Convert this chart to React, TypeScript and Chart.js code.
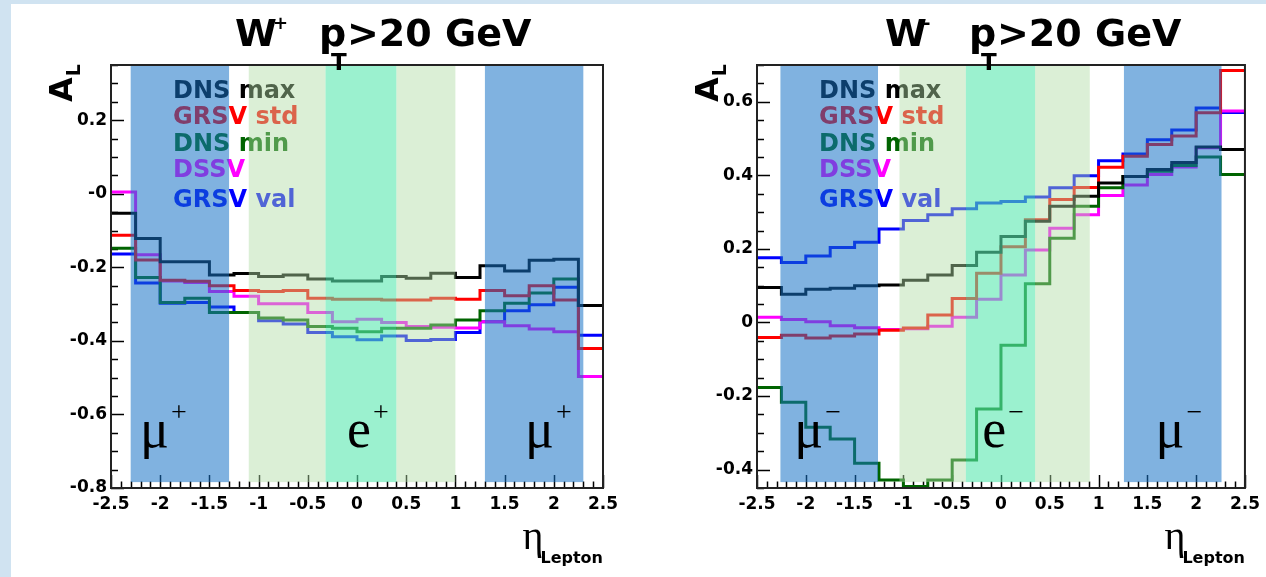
import React, { useEffect, useRef } from 'react';
import { Chart, registerables } from 'chart.js';
Chart.register(...registerables);

// ---------- data ----------
const etaBinEdges = [-2.5, -2.25, -2, -1.75, -1.5, -1.25, -1, -0.75, -0.5, -0.25, 0, 0.25, 0.5, 0.75, 1, 1.25, 1.5, 1.75, 2, 2.25, 2.5];

const seriesNames = ['DNS max', 'GRSV std', 'DNS min', 'DSSV', 'GRSV val'];
const seriesColors = ['#000000', '#ff0000', '#006400', '#ff00ff', '#0000ff'];

// W+ pT>20 GeV, A_L per eta bin
const wPlusDnsMax = [-0.053, -0.122, -0.185, -0.185, -0.221, -0.217, -0.225, -0.221, -0.232, -0.237, -0.237, -0.225, -0.23, -0.216, -0.228, -0.196, -0.21, -0.181, -0.178, -0.304];
const wPlusGrsvStd = [-0.113, -0.18, -0.235, -0.238, -0.25, -0.263, -0.266, -0.263, -0.284, -0.287, -0.287, -0.289, -0.289, -0.284, -0.287, -0.263, -0.277, -0.25, -0.289, -0.421];
const wPlusDnsMin = [-0.148, -0.228, -0.296, -0.284, -0.323, -0.323, -0.338, -0.343, -0.361, -0.366, -0.375, -0.366, -0.366, -0.357, -0.343, -0.318, -0.298, -0.27, -0.232, -0.304];
const wPlusDssv = [0.005, -0.166, -0.237, -0.241, -0.266, -0.279, -0.299, -0.299, -0.323, -0.348, -0.341, -0.35, -0.361, -0.363, -0.365, -0.348, -0.359, -0.368, -0.375, -0.497];
const wPlusGrsvVal = [-0.164, -0.243, -0.298, -0.296, -0.308, -0.323, -0.345, -0.354, -0.377, -0.389, -0.397, -0.387, -0.399, -0.396, -0.377, -0.348, -0.318, -0.302, -0.254, -0.385];

// W- pT>20 GeV
const wMinusDnsMax = [0.095, 0.077, 0.09, 0.093, 0.1, 0.102, 0.115, 0.129, 0.155, 0.191, 0.234, 0.275, 0.316, 0.343, 0.379, 0.397, 0.416, 0.435, 0.477, 0.47];
const wMinusGrsvStd = [-0.041, -0.035, -0.042, -0.037, -0.031, -0.021, -0.015, 0.02, 0.065, 0.134, 0.206, 0.279, 0.334, 0.367, 0.422, 0.452, 0.484, 0.507, 0.57, 0.685];
const wMinusDnsMin = [-0.177, -0.217, -0.285, -0.317, -0.383, -0.428, -0.446, -0.428, -0.374, -0.235, -0.062, 0.105, 0.229, 0.316, 0.366, 0.397, 0.411, 0.427, 0.45, 0.402];
const wMinusDssv = [0.014, 0.008, 0.002, -0.009, -0.014, -0.019, -0.017, -0.01, 0.014, 0.063, 0.129, 0.197, 0.256, 0.293, 0.345, 0.374, 0.402, 0.423, 0.475, 0.575];
const wMinusGrsvVal = [0.176, 0.163, 0.181, 0.204, 0.218, 0.254, 0.277, 0.293, 0.309, 0.325, 0.329, 0.341, 0.366, 0.399, 0.44, 0.458, 0.497, 0.523, 0.583, 0.571];

// ticks
const xTickValues = [-2.5, -2, -1.5, -1, -0.5, 0, 0.5, 1, 1.5, 2, 2.5];
const xTickLabels = ['-2.5', '-2', '-1.5', '-1', '-0.5', '0', '0.5', '1', '1.5', '2', '2.5'];
const wPlusYTickValues = [-0.8, -0.6, -0.4, -0.2, 0, 0.2];
const wPlusYTickLabels = ['-0.8', '-0.6', '-0.4', '-0.2', '-0', '0.2'];
const wMinusYTickValues = [-0.4, -0.2, 0, 0.2, 0.4, 0.6];
const wMinusYTickLabels = ['-0.4', '-0.2', '0', '0.2', '0.4', '0.6'];

// detector acceptance bands (eta ranges)
const wPlusMuonBands = [[-2.3, -1.3], [1.3, 2.3]];
const wPlusElecOuterBands = [[-1.1, -0.32], [0.4, 1.0]];
const wPlusElecInnerBands = [[-0.32, 0.4]];
const wMinusMuonBands = [[-2.26, -1.26], [1.26, 2.26]];
const wMinusElecOuterBands = [[-1.04, -0.36], [0.35, 0.91]];
const wMinusElecInnerBands = [[-0.36, 0.35]];

// ---------- styles ----------
const MUON_FILL = 'rgba(22,114,198,0.545)';
const ELEC_OUTER_FILL = 'rgba(176,220,165,0.455)';
const ELEC_INNER_FILL = 'rgba(88,232,175,0.6)';
const SANS = '"DejaVu Sans", "Liberation Sans", sans-serif';
const SERIF = '"Liberation Serif", "DejaVu Serif", serif';

type Area = { left: number; right: number; top: number; bottom: number };
type PanelDef = {
  charge: string;
  values: number[][];
  yMin: number;
  yMax: number;
  yTickValues: number[];
  yTickLabels: string[];
  bandFloor: number;
  muonBands: number[][];
  elecOuterBands: number[][];
  elecInnerBands: number[][];
  particle: { base: string; sup: string; eta: number }[];
  canvasLeft: number;
  canvasWidth: number;
  area: Area;
  titleOffset: number;
};

const CANVAS_H = 577;

const wPlusPanel: PanelDef = {
  charge: '+',
  values: [wPlusDnsMax, wPlusGrsvStd, wPlusDnsMin, wPlusDssv, wPlusGrsvVal],
  yMin: -0.8,
  yMax: 0.35,
  yTickValues: wPlusYTickValues,
  yTickLabels: wPlusYTickLabels,
  bandFloor: -0.784,
  muonBands: wPlusMuonBands,
  elecOuterBands: wPlusElecOuterBands,
  elecInnerBands: wPlusElecInnerBands,
  particle: [
    { base: '\u03bc', sup: '+', eta: -2.205 },
    { base: 'e', sup: '+', eta: -0.102 },
    { base: '\u03bc', sup: '+', eta: 1.707 },
  ],
  canvasLeft: 0,
  canvasWidth: 640,
  area: { left: 111, right: 603, top: 65, bottom: 488 },
  titleOffset: 124,
};

const wMinusPanel: PanelDef = {
  charge: '-',
  values: [wMinusDnsMax, wMinusGrsvStd, wMinusDnsMin, wMinusDssv, wMinusGrsvVal],
  yMin: -0.45,
  yMax: 0.7,
  yTickValues: wMinusYTickValues,
  yTickLabels: wMinusYTickLabels,
  bandFloor: -0.434,
  muonBands: wMinusMuonBands,
  elecOuterBands: wMinusElecOuterBands,
  elecInnerBands: wMinusElecInnerBands,
  particle: [
    { base: '\u03bc', sup: '\u2212', eta: -2.118 },
    { base: 'e', sup: '\u2212', eta: -0.191 },
    { base: '\u03bc', sup: '\u2212', eta: 1.584 },
  ],
  canvasLeft: 640,
  canvasWidth: 626,
  area: { left: 117, right: 610, top: 65, bottom: 488 },
  titleOffset: 128,
};

const legendBaselines = [98, 124, 151, 177, 207];

function lookupLabel(values: number[], labels: string[], v: number) {
  const i = values.findIndex((t) => Math.abs(t - v) < 1e-9);
  return i >= 0 ? labels[i] : '';
}

function makeOverlay(p: PanelDef) {
  return {
    id: 'rootStyle',
    beforeDatasetsDraw(chart: any) {
      const { ctx, chartArea: a, scales } = chart;
      const x = scales.x;
      const y = scales.y;
      ctx.save();
      ctx.strokeStyle = '#000';
      ctx.lineWidth = 1.5;
      ctx.beginPath();
      for (let k = 0; k <= 50; k++) {
        const v = -2.5 + k * 0.1;
        const px = Math.round(x.getPixelForValue(v)) + 0.5;
        const len = k % 5 === 0 ? 13 : 6.5;
        ctx.moveTo(px, a.bottom);
        ctx.lineTo(px, a.bottom - len);
      }
      const start = Math.ceil(p.yMin / 0.05 - 1e-6);
      const end = Math.floor(p.yMax / 0.05 + 1e-6);
      for (let k = start; k <= end; k++) {
        const v = k * 0.05;
        const py = Math.round(y.getPixelForValue(v)) + 0.5;
        const major = Math.abs(v / 0.2 - Math.round(v / 0.2)) < 1e-6;
        ctx.moveTo(a.left, py);
        ctx.lineTo(a.left + (major ? 13 : 7), py);
      }
      ctx.stroke();
      ctx.restore();
    },
    afterDatasetsDraw(chart: any) {
      const { ctx, chartArea: a, scales } = chart;
      const x = scales.x;
      const y = scales.y;
      ctx.save();
      // legend (under the bands)
      ctx.font = `bold 24px ${SANS}`;
      ctx.textBaseline = 'alphabetic';
      ctx.textAlign = 'left';
      seriesNames.forEach((n, i) => {
        ctx.fillStyle = seriesColors[i];
        ctx.fillText(n, a.left + 62, legendBaselines[i]);
      });
      // bands
      const floor = y.getPixelForValue(p.bandFloor);
      const fillBands = (bands: number[][], color: string) => {
        ctx.fillStyle = color;
        bands.forEach(([f, t]) => {
          const x1 = x.getPixelForValue(f);
          const x2 = x.getPixelForValue(t);
          ctx.fillRect(x1, a.top, x2 - x1, floor - a.top);
        });
      };
      fillBands(p.muonBands, MUON_FILL);
      fillBands(p.elecOuterBands, ELEC_OUTER_FILL);
      fillBands(p.elecInnerBands, ELEC_INNER_FILL);
      // particle labels
      ctx.fillStyle = '#000';
      p.particle.forEach((lab) => {
        const px = x.getPixelForValue(lab.eta);
        ctx.font = `54px ${SERIF}`;
        ctx.fillText(lab.base, px, a.bottom - 41);
        const w = ctx.measureText(lab.base).width;
        ctx.font = `28px ${SERIF}`;
        ctx.fillText(lab.sup, px + w + 2, a.bottom - 67);
      });
      ctx.restore();
    },
    afterDraw(chart: any) {
      const { ctx, chartArea: a } = chart;
      ctx.save();
      // frame
      ctx.strokeStyle = '#222';
      ctx.lineWidth = 2;
      ctx.strokeRect(a.left, a.top, a.right - a.left, a.bottom - a.top);
      // title
      ctx.fillStyle = '#000';
      ctx.textAlign = 'left';
      ctx.textBaseline = 'alphabetic';
      const x0 = a.left + p.titleOffset;
      ctx.font = `bold 38px ${SANS}`;
      ctx.fillText('W', x0, 46);
      ctx.font = `bold 18px ${SANS}`;
      ctx.fillText(p.charge, x0 + 38, 29);
      ctx.font = `bold 38px ${SANS}`;
      ctx.fillText('p', x0 + 84, 46);
      ctx.font = `bold 23px ${SANS}`;
      ctx.fillText('T', x0 + 96, 70);
      ctx.font = `bold 38px ${SANS}`;
      ctx.fillText('>20 GeV', x0 + 112, 46);
      // y-axis title A_L (rotated)
      ctx.save();
      ctx.translate(a.left - 39, 102);
      ctx.rotate(-Math.PI / 2);
      ctx.font = `bold 32px ${SANS}`;
      ctx.fillText('A', 0, 0);
      const aw = ctx.measureText('A').width;
      ctx.font = `bold 19px ${SANS}`;
      ctx.fillText('L', aw + 1, 8);
      ctx.restore();
      // x-axis title eta_Lepton
      ctx.font = `bold 16px ${SANS}`;
      const lw = ctx.measureText('Lepton').width;
      ctx.fillText('Lepton', a.right - lw, 563);
      ctx.font = `40px ${SERIF}`;
      const ew = ctx.measureText('\u03b7').width;
      ctx.fillText('\u03b7', a.right - lw - ew + 3, 549);
      ctx.restore();
    },
  };
}

function PanelChart({ panel }: { panel: PanelDef }) {
  const ref = useRef<HTMLCanvasElement | null>(null);
  useEffect(() => {
    if (!ref.current) return;
    const p = panel;
    const W = p.canvasWidth;
    const datasets = p.values.map((vals, i) => ({
      label: seriesNames[i],
      data: etaBinEdges.map((e, k) => ({ x: e, y: vals[Math.min(k, vals.length - 1)] })),
      borderColor: seriesColors[i],
      backgroundColor: seriesColors[i],
      borderWidth: 3,
      pointRadius: 0,
      stepped: 'before' as const,
      fill: false,
      tension: 0,
      borderJoinStyle: 'miter' as const,
      xAxisID: 'x',
      yAxisID: 'y',
    }));
    const tickFont = { family: SANS, weight: 'bold' as const, size: 17 };
    const chart = new Chart(ref.current, {
      type: 'line',
      data: { datasets },
      options: {
        animation: false,
        responsive: false,
        layout: { padding: 0 },
        plugins: { legend: { display: false }, tooltip: { enabled: false }, title: { display: false } },
        scales: {
          x: {
            type: 'linear',
            position: 'bottom',
            min: -2.5,
            max: 2.5,
            afterBuildTicks: (s: any) => {
              s.ticks = xTickValues.map((v) => ({ value: v }));
            },
            afterFit: (s: any) => {
              s.height = CANVAS_H - p.area.bottom;
            },
            ticks: {
              callback: (v: any) => lookupLabel(xTickValues, xTickLabels, Number(v)),
              font: tickFont,
              color: '#000',
              padding: 6,
              maxRotation: 0,
              autoSkip: false,
            },
            grid: { display: false, drawTicks: false },
            border: { display: false },
          },
          x2: {
            type: 'linear',
            position: 'top',
            display: true,
            afterFit: (s: any) => {
              s.height = p.area.top;
            },
            ticks: { display: false },
            grid: { display: false, drawTicks: false },
            border: { display: false },
          },
          y: {
            type: 'linear',
            position: 'left',
            min: p.yMin,
            max: p.yMax,
            afterBuildTicks: (s: any) => {
              s.ticks = p.yTickValues.map((v) => ({ value: v }));
            },
            afterFit: (s: any) => {
              s.width = p.area.left;
            },
            ticks: {
              callback: (v: any) => lookupLabel(p.yTickValues, p.yTickLabels, Number(v)),
              font: tickFont,
              color: '#000',
              padding: 4,
              autoSkip: false,
            },
            grid: { display: false, drawTicks: false },
            border: { display: false },
          },
          y2: {
            type: 'linear',
            position: 'right',
            display: true,
            afterFit: (s: any) => {
              s.width = W - p.area.right;
            },
            ticks: { display: false },
            grid: { display: false, drawTicks: false },
            border: { display: false },
          },
        },
      } as any,
      plugins: [makeOverlay(p)],
    });
    return () => chart.destroy();
  }, [panel]);
  return (
    <canvas
      ref={ref}
      width={panel.canvasWidth}
      height={CANVAS_H}
      style={{ position: 'absolute', left: panel.canvasLeft, top: 0, width: panel.canvasWidth, height: CANVAS_H }}
    />
  );
}

export default function App() {
  return (
    <div style={{ position: 'absolute', left: 0, top: 0, width: 1266, height: 577, background: '#d0e3f1', overflow: 'hidden' }}>
      <div style={{ position: 'absolute', left: 11, top: 4, right: 0, bottom: 0, background: '#ffffff' }} />
      <PanelChart panel={wPlusPanel} />
      <PanelChart panel={wMinusPanel} />
    </div>
  );
}
